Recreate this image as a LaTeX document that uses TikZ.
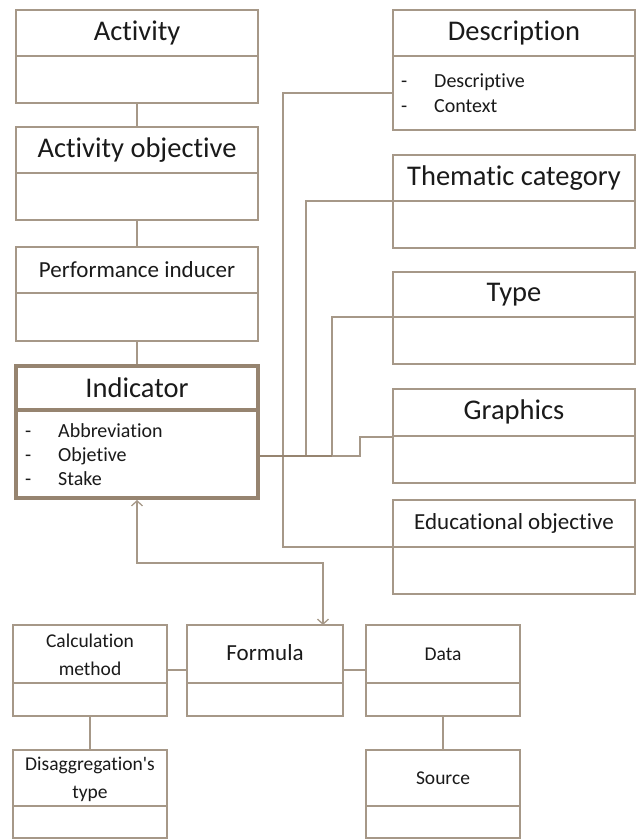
\documentclass[tikz,border=0pt]{standalone}
\usepackage{fontspec}
\setmainfont{Carlito}[Ligatures=NoCommon]
\newfontfamily\cf{Carlito}[Ligatures={NoCommon,NoContextual}]
\usetikzlibrary{arrows.meta}
\definecolor{bc}{HTML}{A69888}
\definecolor{tc}{HTML}{968470}
\definecolor{txt}{HTML}{1A1A1A}
\tikzset{
  box/.style={draw=bc, line width=1.3pt, fill=white, inner sep=0pt, outer sep=0pt},
  thickbox/.style={draw=tc, line width=4pt, fill=white, inner sep=0pt, outer sep=2pt},
  divline/.style={draw=bc, line width=1.3pt},
  conn/.style={draw=bc, line width=1.3pt},
  big/.style={font=\cf\fontsize{28.5}{34}\selectfont, text=txt, inner sep=0pt},
  mid/.style={font=\cf\fontsize{23}{28}\selectfont, text=txt, inner sep=0pt},
  sml/.style={font=\cf\fontsize{19.5}{28}\selectfont, text=txt, inner sep=0pt, align=center},
  lst/.style={font=\cf\fontsize{20}{24}\selectfont, text=txt, inner sep=0pt, anchor=base west}
}
\begin{document}
\begin{tikzpicture}[x=1pt,y=-1pt]
\useasboundingbox (0,0) rectangle (638,839);
% left column
\node[box, minimum width=242, minimum height=93, anchor=north west] (act) at (16,10) {};
\draw[divline] (16,56) -- (258,56);
\node[big] (act-t) at (137,33) {Activity};

\node[box, minimum width=242, minimum height=93, anchor=north west] (aobj) at (16,127) {};
\draw[divline] (16,173) -- (258,173);
\node[big] (aobj-t) at (137,150) {Activity objective};

\node[box, minimum width=242, minimum height=94, anchor=north west] (perf) at (16,247) {};
\draw[divline] (16,293) -- (258,293);
\node[mid] (perf-t) at (137,270) {Performance inducer};

\node[thickbox, minimum width=242, minimum height=132, anchor=north west] (ind) at (14,364) {};
\draw[draw=tc, line width=4pt] (16,410) -- (258,410);
\node[big] (ind-t) at (137,388) {Indicator};
\node[lst] (ind-d1) at (25,437) {-};
\node[lst] (ind-d2) at (25,461) {-};
\node[lst] (ind-d3) at (25,485) {-};
\node[lst] (ind-l1) at (58,437) {Abbreviation};
\node[lst] (ind-l2) at (58,461) {Objetive};
\node[lst] (ind-l3) at (58,485) {Stake};

% right column
\node[box, minimum width=242, minimum height=120, anchor=north west] (desc) at (393,10) {};
\draw[divline] (393,56) -- (635,56);
\node[big] (desc-t) at (514,33) {Description};
\node[lst] (desc-d1) at (401,87) {-};
\node[lst] (desc-d2) at (401,112) {-};
\node[lst] (desc-l1) at (434,87) {Descriptive};
\node[lst] (desc-l2) at (434,112) {Context};

\node[box, minimum width=242, minimum height=93, anchor=north west] (them) at (393,155) {};
\draw[divline] (393,201) -- (635,201);
\node[big] (them-t) at (514,178) {Thematic category};

\node[box, minimum width=242, minimum height=92, anchor=north west] (type) at (393,272) {};
\draw[divline] (393,317) -- (635,317);
\node[big] (type-t) at (514,295) {Type};

\node[box, minimum width=242, minimum height=94, anchor=north west] (graph) at (393,389) {};
\draw[divline] (393,436) -- (635,436);
\node[big] (graph-t) at (514,412) {Graphics};

\node[box, minimum width=242, minimum height=94, anchor=north west] (edu) at (393,500) {};
\draw[divline] (393,547) -- (635,547);
\node[mid] (edu-t) at (514,523) {Educational objective};

% bottom row
\node[box, minimum width=154, minimum height=91, anchor=north west] (calc) at (13,625) {};
\draw[divline] (13,683) -- (167,683);
\node[sml] (calc-t) at (90,655) {Calculation\\method};

\node[box, minimum width=156, minimum height=91, anchor=north west] (form) at (187,625) {};
\draw[divline] (187,683) -- (343,683);
\node[mid] (form-t) at (265,653) {Formula};

\node[box, minimum width=154, minimum height=91, anchor=north west] (data) at (366,625) {};
\draw[divline] (366,683) -- (520,683);
\node[sml] (data-t) at (443,654) {Data};

\node[box, minimum width=154, minimum height=88, anchor=north west] (dis) at (13,750) {};
\draw[divline] (13,806) -- (167,806);
\node[sml] (dis-t) at (90,779) {Disaggregation's\\type};

\node[box, minimum width=154, minimum height=88, anchor=north west] (src) at (366,750) {};
\draw[divline] (366,806) -- (520,806);
\node[sml] (src-t) at (443,778) {Source};

% vertical chain connectors
\draw[conn] (act.south) -- (aobj.north);
\draw[conn] (aobj.south) -- (perf.north);
\draw[conn] (perf.south) -- (ind.north);

% bus to right column
\coordinate (j3) at (332,456);
\coordinate (d1) at (283,93);
\coordinate (d2) at (283,547);
\coordinate (t1) at (306,201);
\coordinate (y1) at (332,317);
\coordinate (g1) at (360,437);
\draw[conn] (desc.west |- d1) -- (d1) -- (d2) -- (edu.west |- d2);
\draw[conn] (them.west |- t1) -- (t1) -- (t1 |- j3);
\draw[conn] (type.west |- y1) -- (y1) -- (j3);
\draw[conn] (graph.west |- g1) -- (g1) -- (g1 |- j3) -- (j3);
\draw[draw=tc, line width=2.5pt] (ind.east |- j3) -- (j3);

% indicator <-> formula
\coordinate (bend) at (323,563);
\draw[conn, {Straight Barb[length=5pt,width=11pt]}-{Straight Barb[length=5pt,width=11pt]}] (ind.south) |- (bend) -- (bend |- form.north);

% bottom connectors
\draw[conn] (calc.east |- 0,670) -- (form.west |- 0,670);
\draw[conn] (form.east |- 0,670) -- (data.west |- 0,670);
\draw[conn] (calc.south) -- (dis.north);
\draw[conn] (data.south) -- (src.north);
\end{tikzpicture}
\end{document}
